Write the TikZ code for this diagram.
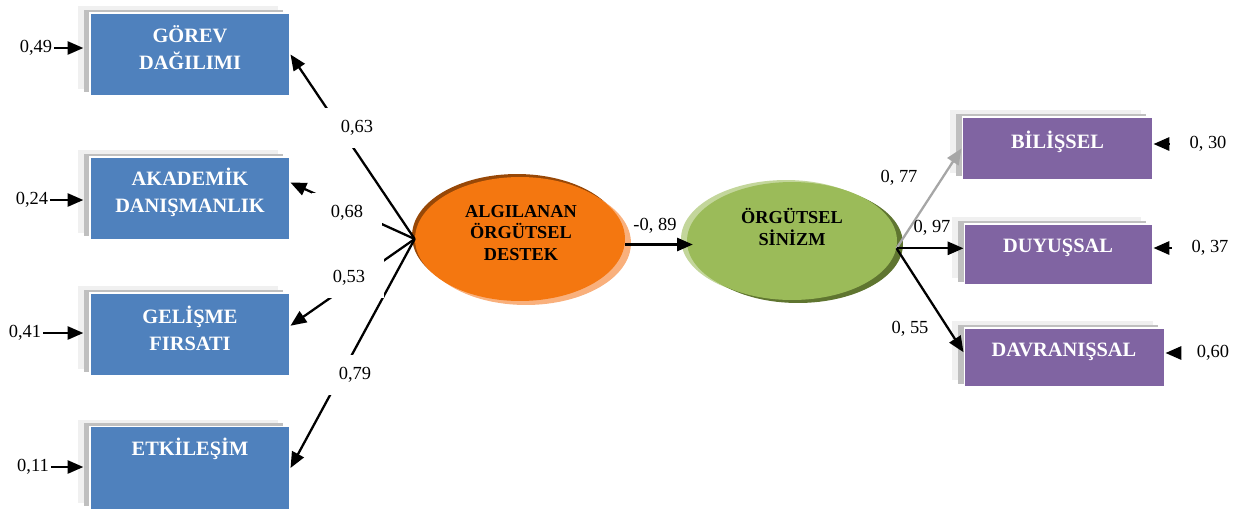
\documentclass[tikz,border=0pt]{standalone}
\usepackage{fontspec}
\setmainfont{Liberation Serif}
\usetikzlibrary{arrows.meta,shapes.geometric,shadows}

\definecolor{boxblue}{HTML}{4F81BD}
\definecolor{boxpurple}{HTML}{8064A2}
\definecolor{algorange}{HTML}{F47710}
\definecolor{algdark}{HTML}{984807}
\definecolor{alglight}{HTML}{F9B07C}
\definecolor{singreen}{HTML}{9BBB59}
\definecolor{sinlight}{HTML}{C3D69B}
\definecolor{sindark}{HTML}{5F7530}
\definecolor{shadelight}{HTML}{F0F0F0}
\definecolor{shademid}{HTML}{BFBFBF}
\definecolor{pathgray}{HTML}{A6A6A6}

\tikzset{
  obsbox/.style={rectangle,draw=white,line width=0.6pt,inner sep=0pt,
    general shadow={draw=none,fill=shadelight,shadow xshift=-0.24cm,shadow yshift=0.14cm},
    general shadow={draw=none,fill=shademid,shadow xshift=-0.13cm,shadow yshift=0.07cm}},
  blbox/.style={obsbox,fill=boxblue,minimum width=4cm,minimum height=1.66cm},
  ppbox/.style={obsbox,fill=boxpurple},
  boxtext/.style={text=white,font=\fontsize{11.6}{15.3}\selectfont\bfseries,align=center,inner sep=0pt},
  latname/.style={font=\fontsize{10.4}{12.2}\selectfont\bfseries,align=center,inner sep=0pt},
  coef/.style={font=\fontsize{10.5}{12}\selectfont,inner sep=1pt},
  loadlab/.style={coef,fill=white,inner xsep=11pt,inner ysep=7pt},
  arr/.style={-{Triangle[length=9pt,width=7.5pt]},line width=1.3pt},
  errarr/.style={arr,shorten >=3.5pt},
  errin/.style={arr,shorten <=10pt}
}

\begin{document}
\begin{tikzpicture}[x=0.02cm,y=-0.02cm]
  \useasboundingbox (0,0) rectangle (1241,511);

  % left indicators
  \node[blbox] (gorev) at (190,54.5) {};
  \node[blbox] (akad) at (190,198.5) {};
  \node[blbox] (gelis) at (190,334.5) {};
  \node[blbox] (etki) at (190,468) {};
  \node[boxtext] (gorevt) at (190,48) {GÖREV\\DAĞILIMI};
  \node[boxtext] (akadt) at (190,192) {AKADEMİK\\DANIŞMANLIK};
  \node[boxtext] (gelist) at (190,328) {GELİŞME\\FIRSATI};
  \node[boxtext] (etkit) at (190,449) {ETKİLEŞİM};

  % right indicators
  \node[ppbox,minimum width=3.82cm,minimum height=1.26cm] (bil) at (1057.5,148.5) {};
  \node[ppbox,minimum width=3.78cm,minimum height=1.22cm] (duy) at (1058.5,254.5) {};
  \node[ppbox,minimum width=4.02cm,minimum height=1.18cm] (dav) at (1064.5,357.5) {};
  \node[boxtext] (bilt) at (1057.5,142) {BİLİŞSEL};
  \node[boxtext] (duyt) at (1058,248) {DUYUŞSAL};
  \node[boxtext] (davt) at (1064,352) {DAVRANIŞSAL};

  % latent variables
  \fill[algdark] (517,236) ellipse [x radius=2.1cm,y radius=1.24cm];
  \fill[alglight] (526,243) ellipse [x radius=2.1cm,y radius=1.24cm];
  \node[ellipse,fill=algorange,minimum width=4.2cm,minimum height=2.48cm,inner sep=0pt] (alg) at (520,239) {};
  \node[latname] (algt) at (521,233) {ALGILANAN\\ÖRGÜTSEL\\DESTEK};

  \fill[sinlight] (786,239) ellipse [x radius=2.1cm,y radius=1.18cm];
  \fill[sindark] (798,244) ellipse [x radius=2.1cm,y radius=1.18cm];
  \node[ellipse,fill=singreen,minimum width=4.2cm,minimum height=2.36cm,inner sep=0pt] (sin) at (792,241) {};
  \node[latname] (sint) at (792,227) {ÖRGÜTSEL\\SİNİZM};

  % loadings
  \draw[arr] (alg.west) -- (gorev.east);
  \draw[arr] (alg.west) -- (akad.9);
  \draw[arr] (alg.west) -- (gelis.5);
  \draw[arr] (alg.west) -- (etki.east);
  \node[loadlab] (l1) at (357,128) {0,63};
  \node[loadlab] (l2) at (347,213) {0,68};
  \node[loadlab] (l3) at (349,278) {0,53};
  \node[loadlab] (l4) at (355,375) {0,79};

  \draw[arr,shorten >=-3.5pt] (alg.-3) -- (alg.-3 -| sin.west);
  \node[coef] (c0) at (655,226) {-0, 89};

  \draw[arr,draw=pathgray] (sin.-4) -- (bil.west);
  \draw[arr] (sin.-4) -- (sin.-4 -| duy.west);
  \draw[arr] (sin.-4) -- (dav.177);
  \node[coef] (c1) at (899,178) {0, 77};
  \node[coef] (c2) at (932,228) {0, 97};
  \node[coef] (c3) at (910,329) {0, 55};

  % error terms
  \node[coef] (e1) at (36,48) {0,49};
  \node[coef] (e2) at (32,200) {0,24};
  \node[coef] (e3) at (25,333) {0,41};
  \node[coef] (e4) at (33,467) {0,11};
  \draw[errarr] (e1.east) -- (e1.east -| gorev.west);
  \draw[errarr] (e2.east) -- (e2.east -| akad.west);
  \draw[errarr] (e3.east) -- (e3.east -| gelis.west);
  \draw[errarr] (e4.east) -- (e4.east -| etki.west);

  \node[coef] (e5) at (1208,144) {0, 30};
  \node[coef] (e6) at (1210,248) {0, 37};
  \node[coef] (e7) at (1213,353) {0,60};
  \draw[errin] (e5.west) -- (e5.west -| bil.east);
  \draw[errin] (e6.west) -- (e6.west -| duy.east);
  \draw[errin] (e7.west) -- (e7.west -| dav.east);
\end{tikzpicture}
\end{document}
